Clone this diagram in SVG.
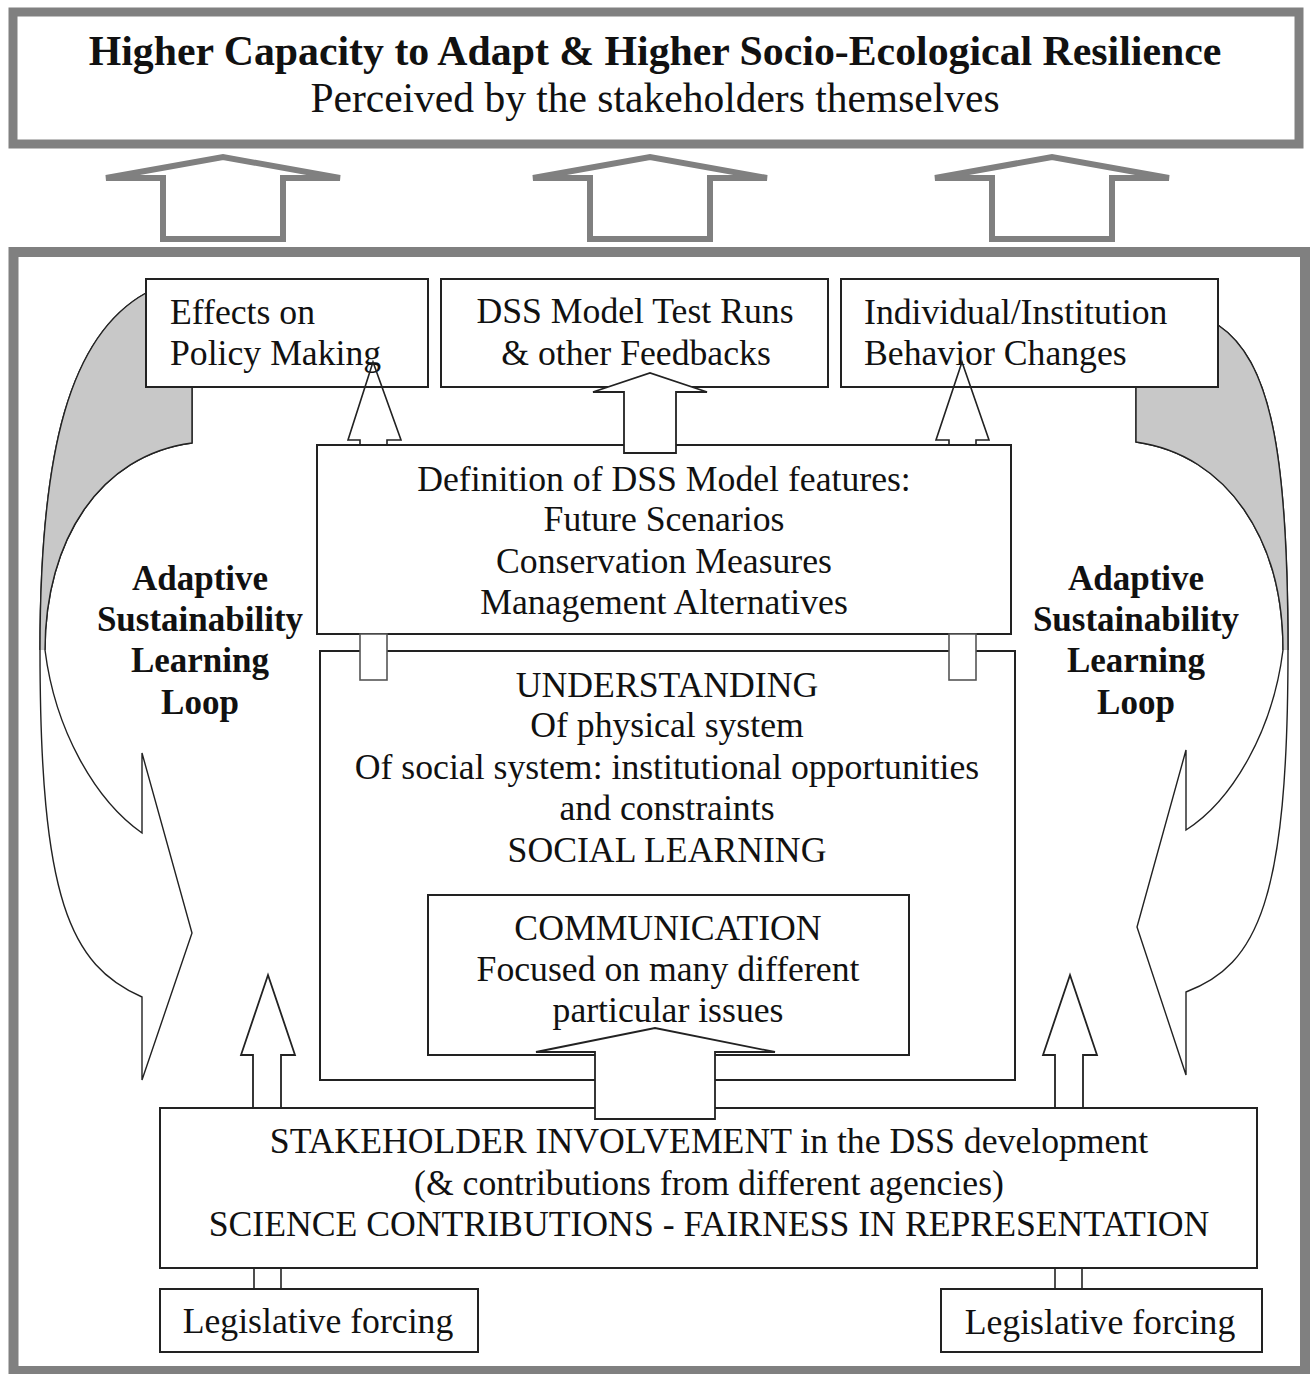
<svg xmlns="http://www.w3.org/2000/svg" width="1310" height="1374" viewBox="0 0 1310 1374">
<style>
  text { font-family: "Liberation Serif", "Times New Roman", serif; fill: #111; }
  .t { font-size: 35.7px; }
  .tb { font-size: 35px; }
  .c { text-anchor: middle; }
  .b { font-weight: bold; }
  .box { fill: #fff; stroke: #222; stroke-width: 2; }
  .frame { fill: none; stroke: #808080; stroke-width: 10; }
  .garrow { fill: #fff; stroke: #808080; stroke-width: 6; stroke-linejoin: miter; stroke-miterlimit: 3; }
  .arrow { fill: #fff; stroke: #222; stroke-width: 1.8; }
  .arrow-open { fill: none; stroke: #222; stroke-width: 1.6; }
  .stub { fill: #fff; stroke: #555; stroke-width: 1.6; }
  .ribbon { fill: #fff; stroke: #222; stroke-width: 1.4; }
  .ribbon-grey { fill: #c8c8c8; stroke: none; }
  .line { stroke: #222; stroke-width: 1.6; }
</style>

<!-- Top banner -->
<g id="resilience">
  <rect x="13" y="12" width="1286" height="132" fill="#fff" stroke="#808080" stroke-width="9"/>
  <text x="655" y="65" class="c b" font-size="41.8">Higher Capacity to Adapt &amp; Higher Socio-Ecological Resilience</text>
  <text x="655" y="112" class="c" font-size="41.5">Perceived by the stakeholders themselves</text>
</g>

<!-- Main frame -->
<g id="main-frame">
  <rect x="13.5" y="252" width="1291.5" height="1119" class="frame"/>
</g>

<!-- Learning loops (ribbons) -->
<g id="loop-left">
  <path class="ribbon" d="M146,293 C70,335 40,450 40,650 C40,900 70,965 142,997 L142,1080 L192,933 L142,753 L142,833 C95,800 55,730 45,650 C45,540 100,455 192,443 L192,380 L146,380 Z"/>
  <path class="ribbon-grey" d="M146,293 C70,335 40,450 40,650 L45,650 C45,540 100,455 192,443 L192,380 L146,380 Z"/>
  <path fill="none" stroke="#222" stroke-width="1.4" d="M146,293 C70,335 40,450 40,650 M45,650 C45,540 100,455 192,443 L192,380"/>
  <text class="tb c b" x="200" y="590">Adaptive</text>
  <text class="tb c b" x="200" y="631">Sustainability</text>
  <text class="tb c b" x="200" y="672">Learning</text>
  <text class="tb c b" x="200" y="714">Loop</text>
</g>
<g id="loop-right">
  <path class="ribbon" d="M1218,325 C1270,360 1288,450 1288,650 C1288,900 1258,965 1186,992 L1186,1075 L1137,927 L1186,750 L1186,830 C1233,800 1273,730 1283,650 C1283,540 1228,455 1136,442 L1136,380 L1218,380 Z"/>
  <path class="ribbon-grey" d="M1218,325 C1270,360 1288,450 1288,650 L1283,650 C1283,540 1228,455 1136,442 L1136,380 L1218,380 Z"/>
  <path fill="none" stroke="#222" stroke-width="1.4" d="M1218,325 C1270,360 1288,450 1288,650 M1283,650 C1283,540 1228,455 1136,442 L1136,380"/>
  <text class="tb c b" x="1136" y="590">Adaptive</text>
  <text class="tb c b" x="1136" y="631">Sustainability</text>
  <text class="tb c b" x="1136" y="672">Learning</text>
  <text class="tb c b" x="1136" y="714">Loop</text>
</g>

<!-- Nodes -->
<g id="effects-policy">
  <rect class="box" x="146" y="279" width="282" height="108"/>
  <text class="t" x="170" y="324">Effects on</text>
  <text class="t" x="170" y="365">Policy Making</text>
</g>
<g id="dss-test-runs">
  <rect class="box" x="441" y="279" width="387" height="108"/>
  <text class="t c" x="635" y="323">DSS Model Test Runs</text>
  <text class="t c" x="636" y="365">&amp; other Feedbacks</text>
</g>
<g id="behavior-changes">
  <rect class="box" x="841" y="279" width="377" height="108"/>
  <text class="t" x="864" y="324">Individual/Institution</text>
  <text class="t" x="864" y="365">Behavior Changes</text>
</g>
<g id="dss-definition">
  <rect class="box" x="317" y="445" width="694" height="189"/>
  <text class="t c" x="664" y="491">Definition of DSS Model features:</text>
  <text class="t c" x="664" y="531">Future Scenarios</text>
  <text class="t c" x="664" y="573">Conservation Measures</text>
  <text class="t c" x="664" y="614">Management Alternatives</text>
</g>
<g id="understanding">
  <rect class="box" x="320" y="651" width="695" height="429"/>
  <text class="t c" x="667" y="697">UNDERSTANDING</text>
  <text class="t c" x="667" y="737">Of physical system</text>
  <text class="t c" x="667" y="779">Of social system: institutional opportunities</text>
  <text class="t c" x="667" y="820">and constraints</text>
  <text class="t c" x="667" y="862">SOCIAL LEARNING</text>
</g>
<g id="communication">
  <rect class="box" x="428" y="895" width="481" height="160"/>
  <text class="t c" x="668" y="940">COMMUNICATION</text>
  <text class="t c" x="668" y="981">Focused on many different</text>
  <text class="t c" x="668" y="1022">particular issues</text>
</g>
<g id="stakeholder-involvement">
  <rect class="box" x="160" y="1108" width="1097" height="160"/>
  <text class="t c" x="709" y="1153">STAKEHOLDER INVOLVEMENT in the DSS development</text>
  <text class="t c" x="709" y="1195">(&amp; contributions from different agencies)</text>
  <text class="t c" x="709" y="1236">SCIENCE CONTRIBUTIONS - FAIRNESS IN REPRESENTATION</text>
</g>
<g id="legislative-left">
  <rect class="box" x="160" y="1289" width="318" height="63"/>
  <text class="t c" x="318" y="1333">Legislative forcing</text>
</g>
<g id="legislative-right">
  <rect class="box" x="941" y="1289" width="321" height="63"/>
  <text class="t c" x="1100" y="1334">Legislative forcing</text>
</g>

<!-- Connectors -->
<g id="connectors">
  <polygon class="garrow" points="163,239 163,178 106,178 223,157 340,178 283,178 283,239"/>
  <polygon class="garrow" points="590,239 590,178 533,178 650,157 767,178 710,178 710,239"/>
  <polygon class="garrow" points="992,239 992,178 935,178 1052,157 1169,178 1112,178 1112,239"/>

  <polyline class="arrow-open" points="360,445 360,440 348,440 373,362 401,440 387,440 387,445"/>
  <polygon class="arrow" points="624,453 624,392 593,392 650,373 707,392 676,392 676,453"/>
  <polyline class="arrow-open" points="949,445 949,440 936,440 962,362 989,440 976,440 976,445"/>

  <rect class="stub" x="360" y="634" width="27" height="46"/>
  <rect class="stub" x="949" y="634" width="27" height="46"/>

  <polygon class="arrow" points="595,1119 595,1052 536,1052 655,1028 775,1052 715,1052 715,1119"/>

  <polygon class="arrow" points="253,1108 253,1055 241,1055 268,975 295,1055 281,1055 281,1108"/>
  <polygon class="arrow" points="1055,1108 1055,1055 1043,1055 1070,975 1097,1055 1083,1055 1083,1108"/>

  <line class="line" x1="254" y1="1268" x2="254" y2="1289"/>
  <line class="line" x1="281" y1="1268" x2="281" y2="1289"/>
  <line class="line" x1="1055" y1="1268" x2="1055" y2="1289"/>
  <line class="line" x1="1082" y1="1268" x2="1082" y2="1289"/>
</g>
</svg>
